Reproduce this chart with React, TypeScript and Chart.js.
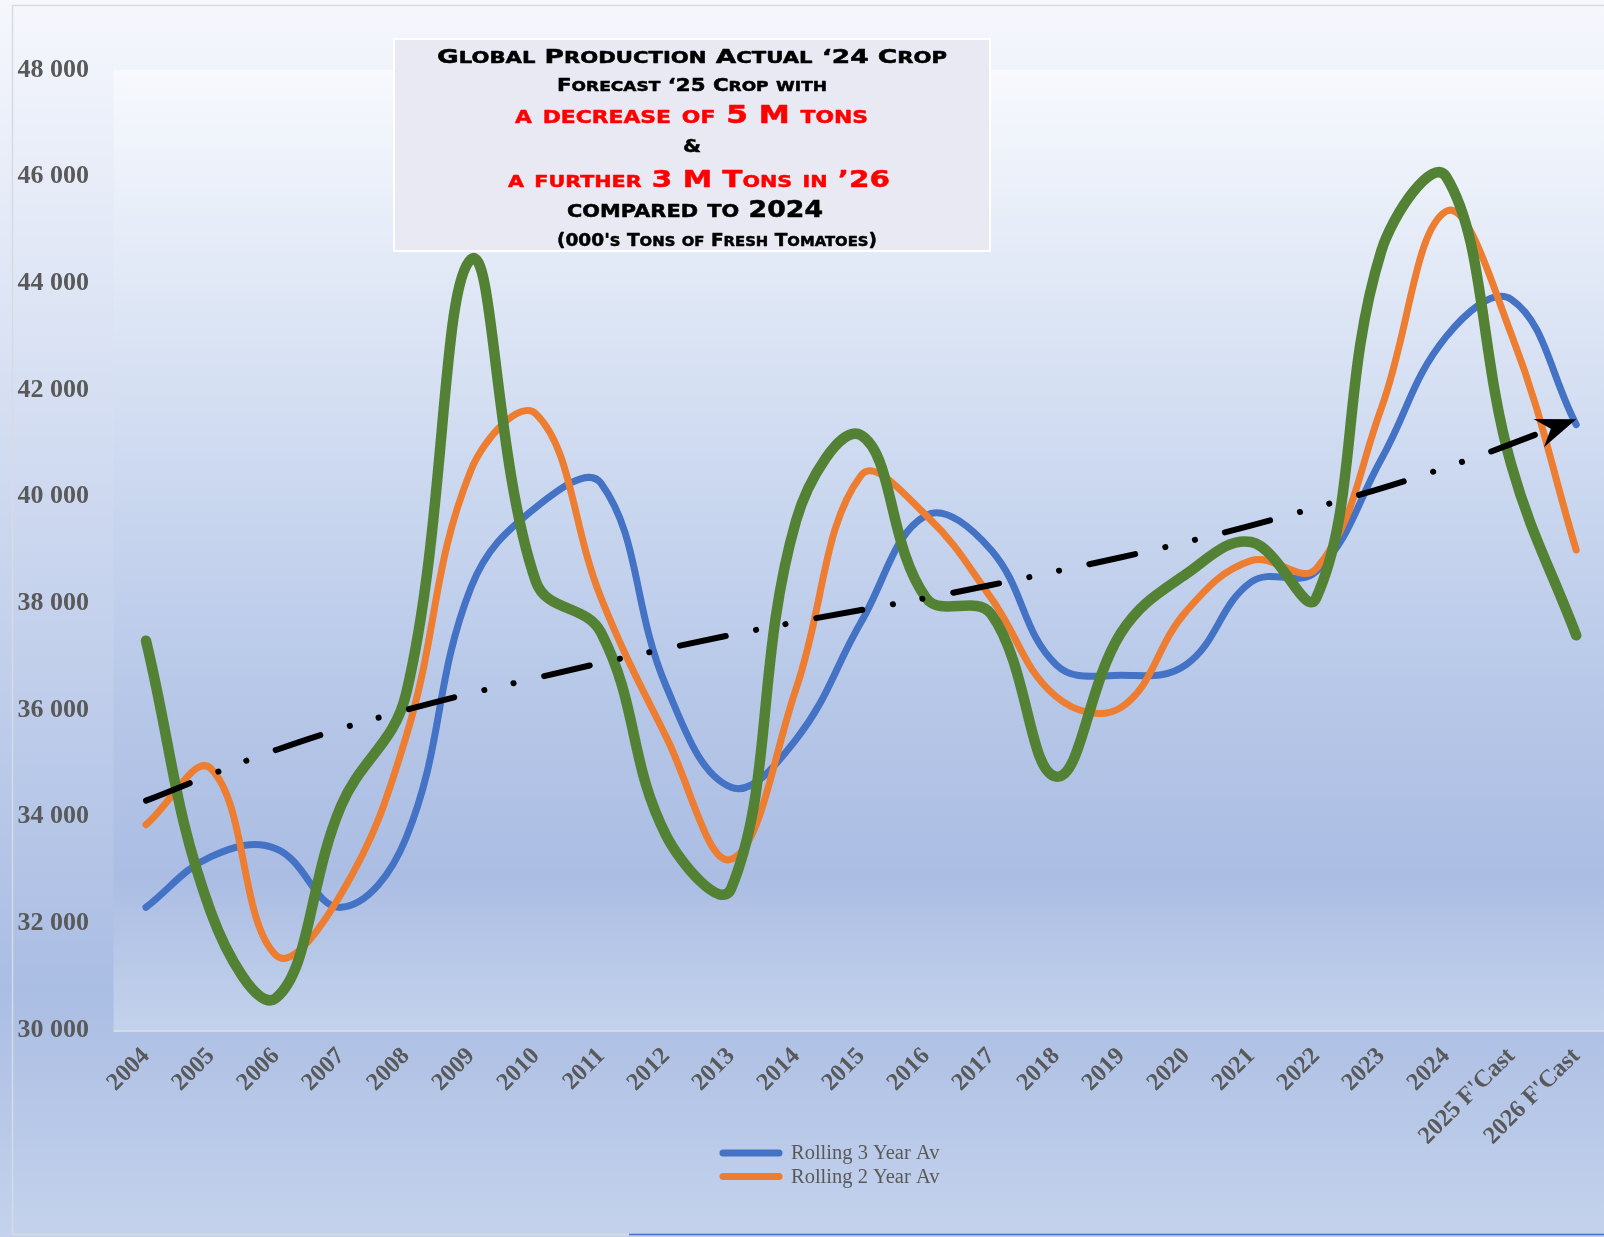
import React, { useEffect, useRef } from 'react';
import { Chart, registerables } from 'chart.js';

Chart.register(...registerables);

// ---------- data ----------
const categories = [
  '2004', '2005', '2006', '2007', '2008', '2009', '2010', '2011', '2012', '2013', '2014',
  '2015', '2016', '2017', '2018', '2019', '2020', '2021', '2022', '2023', '2024',
  "2025 F'Cast", "2026 F'Cast",
];

const rolling3YearAv = [
  32300, 33250, 33400, 32300, 33600, 38300, 39800, 40250, 36450, 34550, 35450,
  37650, 39650, 39000, 36850, 36650, 36850, 38400, 38600, 40700, 43000, 43700, 41350,
];

const rolling2YearAv = [
  33850, 34900, 31400, 32550, 35500, 40500, 41550, 38100, 35500, 33200, 36400,
  40400, 39650, 38100, 36250, 36050, 37850, 38800, 38650, 41650, 45350, 43050, 39000,
];

const globalProduction = [
  37300, 32200, 30600, 34200, 36300, 44450, 38400, 37450, 33650, 32650, 39550,
  41150, 38100, 37800, 34750, 37450, 38550, 39150, 38100, 44600, 46000, 40600, 37400,
];

// hand-drawn trend arrow, read at every other category
const trendArrow = [
  34300, null, 35250, null, 36000, null, 36600, null, 37150, null, 37650, null,
  38100, null, 38600, null, 39150, null, 39800, null, 40550, null, 41450,
];

const yMin = 30000;
const yMax = 48000;
const yStep = 2000;

const legendSeries = ['Rolling 3 Year Av', 'Rolling 2 Year Av'];

const annotationLines = [
  'Global Production Actual \u201824 Crop',
  'Forecast \u201825 Crop with',
  'a decrease of 5 M tons',
  '&',
  'a further 3 M Tons in \u201926',
  'compared to 2024',
  "(000's Tons of Fresh Tomatoes)",
];

// ---------- helpers ----------
const formatThousands = (v: number) => {
  const th = Math.floor(v / 1000);
  const rest = String(Math.round(v % 1000)).padStart(3, '0');
  return `${th} ${rest}`;
};

const SERIF = "'Liberation Serif', 'Times New Roman', serif";
const CAPS_FONT = "'DejaVu Sans', 'Open Sans', sans-serif";

function drawSmallCaps(
  ctx: CanvasRenderingContext2D,
  text: string,
  cap: number,
  ratio: number,
  left: number,
  right: number,
  baseline: number,
  color: string,
) {
  const fs = cap / 0.729;
  const sfs = fs * ratio;
  const runs: { t: string; small: boolean; w: number }[] = [];
  for (const ch of text) {
    const small = /[a-z]/.test(ch);
    const last = runs[runs.length - 1];
    if (last && last.small === small) last.t += ch;
    else runs.push({ t: ch, small, w: 0 });
  }
  let total = 0;
  for (const r of runs) {
    ctx.font = `bold ${r.small ? sfs : fs}px ${CAPS_FONT}`;
    r.w = ctx.measureText(r.small ? r.t.toUpperCase() : r.t).width;
    total += r.w;
  }
  const sx = (right - left) / total;
  ctx.save();
  ctx.translate(left, baseline);
  ctx.scale(sx, 1);
  ctx.fillStyle = color;
  ctx.strokeStyle = color;
  ctx.lineWidth = 0.5;
  ctx.lineJoin = 'round';
  ctx.textBaseline = 'alphabetic';
  ctx.textAlign = 'left';
  let x = 0;
  for (const r of runs) {
    ctx.font = `bold ${r.small ? sfs : fs}px ${CAPS_FONT}`;
    const s = r.small ? r.t.toUpperCase() : r.t;
    ctx.fillText(s, x, 0);
    ctx.strokeText(s, x, 0);
    x += r.w;
  }
  ctx.restore();
}

// ---------- plugins ----------
const backgroundPlugin = {
  id: 'bgPanels',
  beforeDraw(chart: any) {
    const { ctx, width, height, chartArea } = chart;
    ctx.save();
    const g = ctx.createLinearGradient(0, 0, 0, height);
    g.addColorStop(0, '#f5f7fc');
    g.addColorStop(0.45, '#c9d5ee');
    g.addColorStop(0.8, '#aabde3');
    g.addColorStop(1, '#c4d2ec');
    ctx.fillStyle = g;
    ctx.fillRect(0, 0, width, height);

    // frame
    ctx.lineWidth = 1.5;
    ctx.strokeStyle = '#d6dae2';
    ctx.beginPath();
    ctx.moveTo(12.5, 1234.5);
    ctx.lineTo(12.5, 5.5);
    ctx.lineTo(width, 5.5);
    ctx.stroke();
    ctx.beginPath();
    ctx.moveTo(12.5, 1234.5);
    ctx.lineTo(629, 1234.5);
    ctx.stroke();
    ctx.strokeStyle = '#4472c4';
    ctx.beginPath();
    ctx.moveTo(629, 1234.5);
    ctx.lineTo(width, 1234.5);
    ctx.stroke();

    // plot panel
    const ig = ctx.createLinearGradient(0, chartArea.top, 0, chartArea.bottom);
    ig.addColorStop(0, '#f7f9fd');
    ig.addColorStop(0.44, '#cad7ef');
    ig.addColorStop(0.67, '#b5c6e7');
    ig.addColorStop(0.84, '#abbde3');
    ig.addColorStop(1, '#c3d2ec');
    ctx.fillStyle = ig;
    ctx.fillRect(chartArea.left, chartArea.top, width - chartArea.left, chartArea.bottom - chartArea.top);
    ctx.fillStyle = '#d4d9e3';
    ctx.fillRect(chartArea.left, chartArea.bottom, width - chartArea.left, 2);
    ctx.restore();
  },
};

const arrowPlugin = {
  id: 'trendArrowHead',
  afterDatasetsDraw(chart: any) {
    const idx = chart.data.datasets.findIndex((d: any) => d.label === 'Trend');
    if (idx < 0) return;
    const meta = chart.getDatasetMeta(idx);
    const pts = meta.data.filter((_: any, i: number) => trendArrow[i] != null);
    if (pts.length < 2) return;
    const end = pts[pts.length - 1];
    const prev = pts[pts.length - 2];
    const dx = end.x - prev.x;
    const dy = end.y - prev.y;
    const len = Math.hypot(dx, dy);
    const ux = dx / len;
    const uy = dy / len;
    const nx = -uy;
    const ny = ux;
    const L = 40;
    const W = 15;
    const N = 27;
    const { ctx } = chart;
    ctx.save();
    ctx.fillStyle = '#000';
    ctx.beginPath();
    ctx.moveTo(end.x, end.y);
    ctx.lineTo(end.x - L * ux + W * nx, end.y - L * uy + W * ny);
    ctx.lineTo(end.x - N * ux, end.y - N * uy);
    ctx.lineTo(end.x - L * ux - W * nx, end.y - L * uy - W * ny);
    ctx.closePath();
    ctx.fill();
    ctx.restore();
  },
};

const legendPlugin = {
  id: 'stackedLegend',
  afterDraw(chart: any) {
    const { ctx } = chart;
    ctx.save();
    legendSeries.forEach((name, k) => {
      const ds = chart.data.datasets.find((d: any) => d.label === name);
      if (!ds) return;
      const y = 1153 + k * 23.5;
      ctx.strokeStyle = ds.borderColor;
      ctx.lineWidth = 7;
      ctx.lineCap = 'round';
      ctx.beginPath();
      ctx.moveTo(723, y);
      ctx.lineTo(779, y);
      ctx.stroke();
      ctx.fillStyle = '#595959';
      ctx.font = `20.5px ${SERIF}`;
      ctx.textAlign = 'left';
      ctx.textBaseline = 'middle';
      ctx.fillText(name, 791, y + 1);
    });
    ctx.restore();
  },
};

const annotationLayout = [
  { color: '#000000', cap: 14, ratio: 0.8, base: 63, left: 437, right: 947 },
  { color: '#000000', cap: 12.7, ratio: 0.8, base: 91, left: 557, right: 827 },
  { color: '#ff0000', cap: 17.7, ratio: 0.7, base: 123, left: 515, right: 868 },
  { color: '#000000', cap: 12.5, ratio: 1, base: 152, left: 683, right: 701 },
  { color: '#ff0000', cap: 17.3, ratio: 0.7, base: 187, left: 508, right: 890 },
  { color: '#000000', cap: 16.7, ratio: 0.78, base: 217, left: 567, right: 823 },
  { color: '#000000', cap: 12.7, ratio: 0.8, base: 246, left: 557, right: 877 },
];

const annotationPlugin = {
  id: 'annotationBox',
  afterDraw(chart: any) {
    const { ctx } = chart;
    ctx.save();
    ctx.fillStyle = '#e9e9f3';
    ctx.fillRect(394, 39, 596, 212);
    ctx.strokeStyle = '#ffffff';
    ctx.lineWidth = 2;
    ctx.strokeRect(394, 39, 596, 212);
    annotationLines.forEach((t, i) => {
      const l = annotationLayout[i];
      drawSmallCaps(ctx, t, l.cap, l.ratio, l.left, l.right, l.base, l.color);
    });
    ctx.restore();
  },
};

// ---------- component ----------
export default function App() {
  const canvasRef = useRef<HTMLCanvasElement | null>(null);

  useEffect(() => {
    if (!canvasRef.current) return;
    const tickFont = { family: SERIF, weight: 'bold' as const };
    const chart = new Chart(canvasRef.current, {
      type: 'line',
      data: {
        labels: categories,
        datasets: [
          {
            label: 'Trend',
            data: trendArrow,
            borderColor: '#000000',
            borderWidth: 6,
            borderDash: [47, 31, 0.1, 30, 0.1, 31],
            borderCapStyle: 'round',
            spanGaps: true,
            tension: 0.4,
            pointRadius: 0,
            fill: false,
            order: 0,
          },
          {
            label: 'Global Production',
            data: globalProduction,
            borderColor: '#548235',
            borderWidth: 10.5,
            borderCapStyle: 'round',
            tension: 0.4,
            pointRadius: 0,
            fill: false,
            order: 1,
          },
          {
            label: 'Rolling 2 Year Av',
            data: rolling2YearAv,
            borderColor: '#ed7d31',
            borderWidth: 7,
            borderCapStyle: 'round',
            tension: 0.4,
            pointRadius: 0,
            fill: false,
            order: 2,
          },
          {
            label: 'Rolling 3 Year Av',
            data: rolling3YearAv,
            borderColor: '#4472c4',
            borderWidth: 7,
            borderCapStyle: 'round',
            tension: 0.4,
            pointRadius: 0,
            fill: false,
            order: 3,
          },
        ],
      },
      options: {
        responsive: false,
        animation: false,
        layout: { padding: { left: 16, top: 70, right: 0, bottom: 0 } },
        plugins: {
          legend: { display: false },
          tooltip: { enabled: false },
          title: { display: false },
        },
        scales: {
          x: {
            offset: true,
            grid: { display: false, drawTicks: false },
            border: { display: false },
            ticks: {
              autoSkip: false,
              maxRotation: 45,
              minRotation: 45,
              padding: 12,
              color: '#595959',
              font: { ...tickFont, size: 24.5 },
            },
            afterFit: (s: any) => {
              s.height = 207;
            },
          },
          y: {
            min: yMin,
            max: yMax,
            grid: { display: false, drawTicks: false },
            border: { display: false },
            ticks: {
              stepSize: yStep,
              padding: 24.5,
              color: '#595959',
              font: { ...tickFont, size: 26 },
              callback: (v: any) => formatThousands(Number(v)),
            },
            afterFit: (s: any) => {
              s.width = 97.5;
            },
          },
        },
      },
      plugins: [backgroundPlugin, arrowPlugin, legendPlugin, annotationPlugin],
    } as any);
    return () => chart.destroy();
  }, []);

  return (
    <div
      style={{
        position: 'fixed',
        left: 0,
        top: 0,
        width: 1604,
        height: 1237,
        overflow: 'hidden',
      }}
    >
      <canvas ref={canvasRef} width={1609} height={1237} style={{ display: 'block' }} />
    </div>
  );
}
